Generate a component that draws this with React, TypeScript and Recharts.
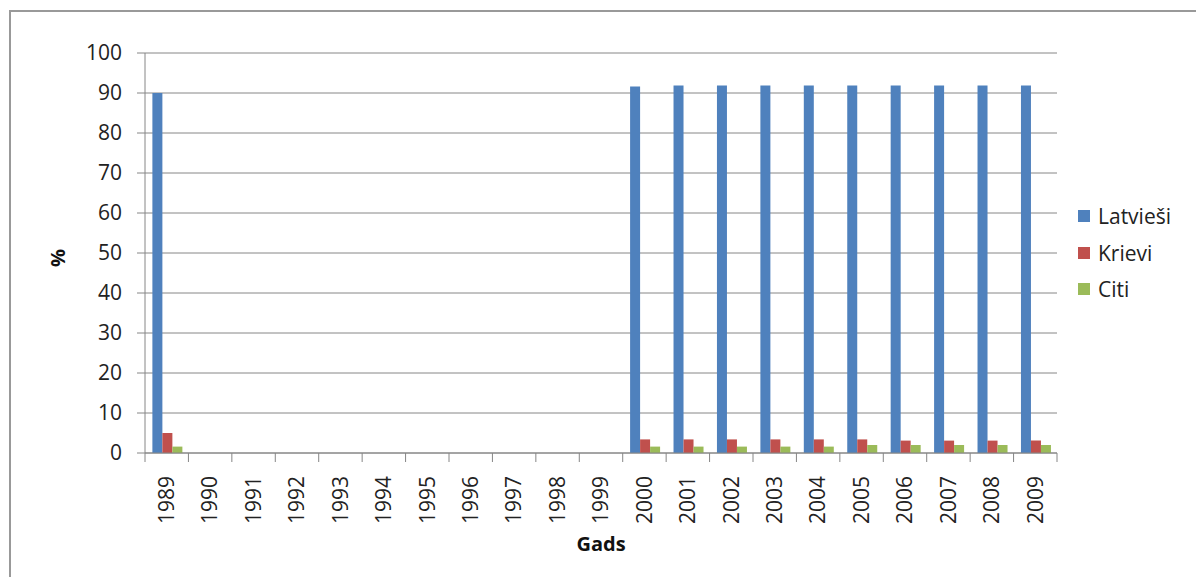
import React from 'react';
import { BarChart, Bar, XAxis, YAxis, CartesianGrid, Legend } from 'recharts';

const years = ['1989', '1990', '1991', '1992', '1993', '1994', '1995', '1996', '1997', '1998', '1999',
  '2000', '2001', '2002', '2003', '2004', '2005', '2006', '2007', '2008', '2009'];

const latviesi = [90, null, null, null, null, null, null, null, null, null, null,
  91.6, 91.9, 91.9, 91.9, 91.9, 91.9, 91.9, 91.9, 91.9, 91.9];
const krievi = [5.0, null, null, null, null, null, null, null, null, null, null,
  3.4, 3.4, 3.4, 3.4, 3.4, 3.4, 3.1, 3.1, 3.1, 3.1];
const citi = [1.6, null, null, null, null, null, null, null, null, null, null,
  1.6, 1.6, 1.6, 1.6, 1.6, 2.0, 2.0, 2.0, 2.0, 2.0];

const yTicks = [0, 10, 20, 30, 40, 50, 60, 70, 80, 90, 100];

const series = [
  { key: 'Latvieši', color: '#4F81BD' },
  { key: 'Krievi', color: '#C0504D' },
  { key: 'Citi', color: '#9BBB59' },
];

const data = years.map((y, i) => ({
  year: y,
  'Latvieši': latviesi[i],
  Krievi: krievi[i],
  Citi: citi[i],
}));

const FONT = '"Open Sans", sans-serif';
const PLOT_W = 912;
const BAND = PLOT_W / years.length;

const YearTick = (props: any) => {
  const { x, y, payload, index } = props;
  const half = BAND / 2;
  return (
    <g>
      <line x1={x - half} y1={y} x2={x - half} y2={y + 9} stroke="#868686" />
      {index === years.length - 1 && (
        <line x1={x + half} y1={y} x2={x + half} y2={y + 9} stroke="#868686" />
      )}
      <text
        x={x}
        y={y + 23}
        transform={`rotate(-90, ${x}, ${y + 23})`}
        textAnchor="end"
        dy="0.35em"
        fill="#222"
        fontSize={21}
        fontFamily={FONT}
      >
        {payload.value}
      </text>
    </g>
  );
};

const LegendBox = () => (
  <div style={{ width: 120, boxSizing: 'border-box', paddingLeft: 21, fontFamily: FONT, fontSize: 21, color: '#222' }}>
    {series.map((s) => (
      <div key={s.key} style={{ height: 36.5, display: 'flex', alignItems: 'center' }}>
        <span style={{ width: 12, height: 12, background: s.color, marginRight: 8, display: 'inline-block' }} />
        <span>{s.key}</span>
      </div>
    ))}
  </div>
);

export default function App() {
  return (
    <div style={{ position: 'relative', width: 1196, height: 569 }}>
      <div
        style={{
          position: 'absolute', left: 1, top: 2, width: 1190, height: 567,
          borderTop: '2px solid #999', borderLeft: '2px solid #999', borderRight: '2px solid #999',
        }}
      />
      <BarChart
        width={1196}
        height={569}
        data={data}
        margin={{ top: 45, right: 27, bottom: 14, left: 7 }}
        barCategoryGap="17%"
        barGap={0}
      >
        <CartesianGrid vertical={false} stroke="#868686" />
        <XAxis
          dataKey="year"
          height={110}
          tickSize={0}
          tickMargin={0}
          interval={0}
          axisLine={{ stroke: '#868686' }}
          tick={<YearTick />}
          label={{ value: 'Gads', position: 'insideBottom', offset: 12, fontFamily: FONT, fontSize: 20, fontWeight: 'bold', fill: '#111' }}
        />
        <YAxis
          width={130}
          domain={[0, 100]}
          ticks={yTicks}
          tickSize={8}
          tickMargin={15}
          axisLine={{ stroke: '#868686' }}
          tickLine={{ stroke: '#868686' }}
          tick={{ fontFamily: FONT, fontSize: 21, fill: '#222' }}
          label={{ value: '%', angle: -90, position: 'insideLeft', offset: 43, dy: 14, fontFamily: FONT, fontSize: 20, fontWeight: 'bold', fill: '#111' }}
        />
        <Legend
          layout="vertical"
          align="right"
          verticalAlign="middle"
          content={<LegendBox />}
          wrapperStyle={{ top: 190 }}
        />
        {series.map((s) => (
          <Bar key={s.key} dataKey={s.key} fill={s.color} isAnimationActive={false} />
        ))}
      </BarChart>
    </div>
  );
}
